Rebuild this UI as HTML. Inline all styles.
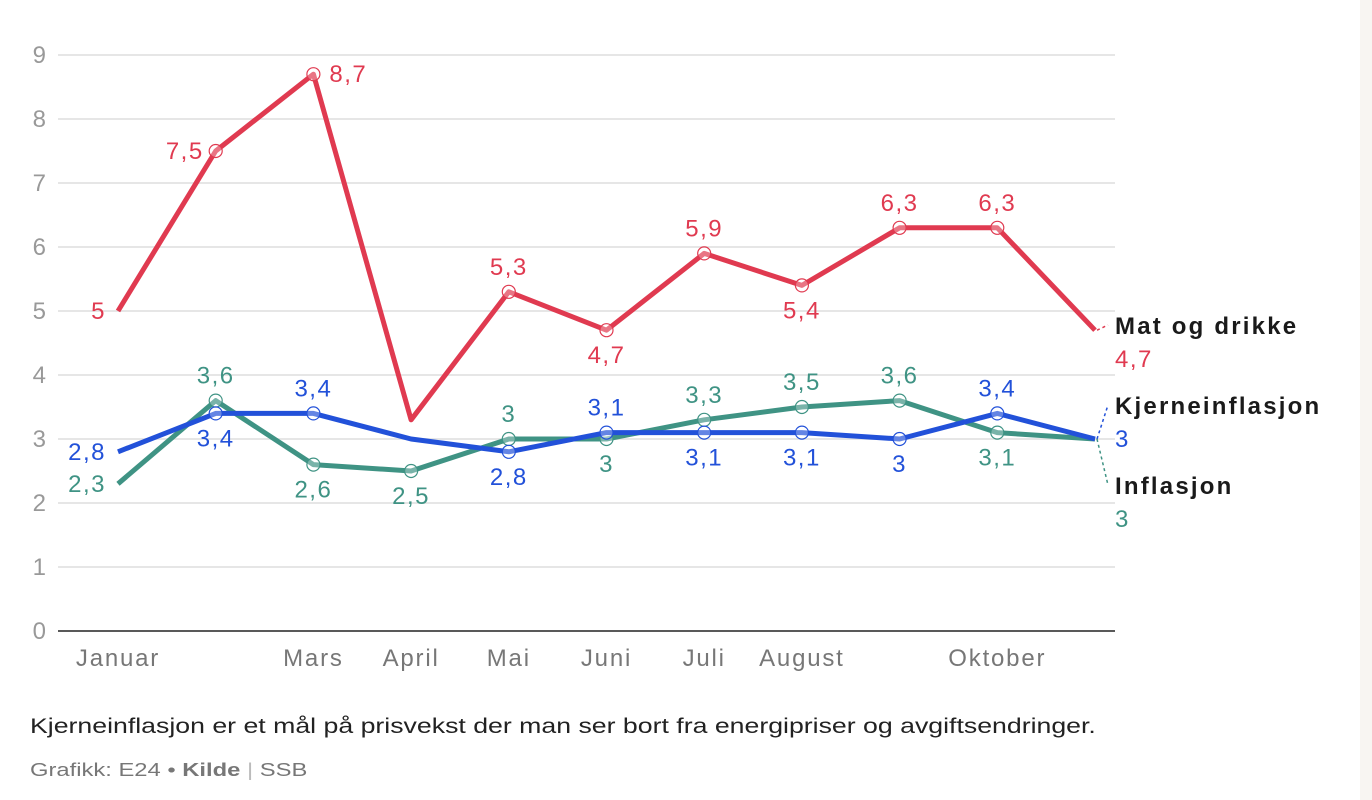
<!DOCTYPE html>
<html><head><meta charset="utf-8"><style>
body{margin:0;background:#fff;width:1372px;height:800px;overflow:hidden;font-family:"Liberation Sans",sans-serif;position:relative}
#strip{position:absolute;left:1360px;top:0;width:12px;height:800px;background:#f8f5f2}
.note{position:absolute;left:30px;top:715px;font-size:21px;color:#222;white-space:nowrap;transform-origin:0 0;transform:scaleX(1.27)}
.src{position:absolute;left:30px;top:760px;font-size:18px;color:#777;white-space:nowrap;transform-origin:0 0;transform:scaleX(1.32)}
</style></head><body>
<div id="strip"></div>
<svg id="chart" width="1372" height="710" style="position:absolute;left:0;top:0"></svg>
<div class="note">Kjerneinflasjon er et mål på prisvekst der man ser bort fra energipriser og avgiftsendringer.</div>
<div class="src">Grafikk: E24 • <b>Kilde</b> <span style="color:#bbb">|</span> SSB</div>
<script>
const months=["Januar","Februar","Mars","April","Mai","Juni","Juli","August","September","Oktober","November"];
const shownMonths=["Januar","","Mars","April","Mai","Juni","Juli","August","","Oktober",""];
const yTicks=[0,1,2,3,4,5,6,7,8,9];
const matValues=[5,7.5,8.7,3.3,5.3,4.7,5.9,5.4,6.3,6.3,4.7];
const kjerneValues=[2.8,3.4,3.4,3.0,2.8,3.1,3.1,3.1,3.0,3.4,3.0];
const inflValues=[2.3,3.6,2.6,2.5,3.0,3.0,3.3,3.5,3.6,3.1,3.0];
const matPos=["L","L","R","","A","B","A","B","A","A",""];
const kjPos=["L","B","A","","B","A","B","B","B","A",""];
const inPos=["L","A","B","B","A","B","A","A","A","B",""];
const svg=document.getElementById('chart');
const NS="http://www.w3.org/2000/svg";
const x=i=>118+i*97.7, y=v=>631-v*64;
const LS='1.8';
function mk(t,a){const e=document.createElementNS(NS,t);for(const k in a)e.setAttribute(k,a[k]);svg.appendChild(e);return e;}
yTicks.forEach(t=>{
 const l=mk('line',{x1:58,x2:1115,y1:y(t),y2:y(t),stroke:t?'#e6e6e6':'#222','stroke-width':t?2:1.5});
 
 
 const tx=mk('text',{x:46,y:y(t)+8,'text-anchor':'end','font-size':24,fill:'#999'});tx.textContent=t;
 
 
});
shownMonths.forEach((m,i)=>{if(!m)return;
 const t=mk('text',{x:x(i),y:666,'text-anchor':'middle','font-size':24,fill:'#777','letter-spacing':LS});t.textContent=m;
 
 
});
function series(vals,pos,col,name){
 const p=mk('polyline',{points:vals.map((v,i)=>x(i)+','+y(v)).join(' '),fill:'none',stroke:col,'stroke-width':5,'stroke-linejoin':'round'});
 
 
 vals.forEach((v,i)=>{
  if(i>0&&i<10&&pos[i]){const c=mk('circle',{cx:x(i),cy:y(v),r:6.5,fill:'#fff','fill-opacity':0.3,stroke:col,'stroke-width':1.2});
   
   }
  if(!pos[i])return;
  let tx=x(i),ty=y(v)+8,a='middle';
  if(pos[i]=='L'){tx-=12;a='end';}else if(pos[i]=='R'){tx+=16;a='start';}
  else if(pos[i]=='A')ty=y(v)-17;else ty=y(v)+33;
  const t=mk('text',{x:tx,y:ty,'text-anchor':a,'font-size':24,fill:col,'letter-spacing':'1.5'});
  t.textContent=String(v).replace('.',',');
  
  
 });
}
series(inflValues,inPos,'#3f9384','inflasjon');
series(kjerneValues,kjPos,'#2251d9','kjerneinflasjon');
series(matValues,matPos,'#e03a50','mat-og-drikke');
const ends=[[matValues[10],'Mat og drikke','#e03a50',325,'mat-og-drikke'],[kjerneValues[10],'Kjerneinflasjon','#2251d9',405,'kjerneinflasjon'],[inflValues[10],'Inflasjon','#3f9384',485,'inflasjon']];
ends.forEach(([v,lab,col,ly,n])=>{
 const d=mk('line',{x1:x(10)+2,y1:y(v),x2:1108,y2:ly,stroke:col,'stroke-width':1.5,'stroke-dasharray':'3,3'});
 
 
 const t=mk('text',{x:1115,y:ly+9,'font-size':24,'font-weight':'bold',fill:'#1a1a1a','letter-spacing':'2.2'});t.textContent=lab;
 
 
 const t2=mk('text',{x:1115,y:ly+42,'font-size':24,fill:col,'letter-spacing':'1.5'});t2.textContent=String(v).replace('.',',');
 
 
});
</script>
</body></html>
